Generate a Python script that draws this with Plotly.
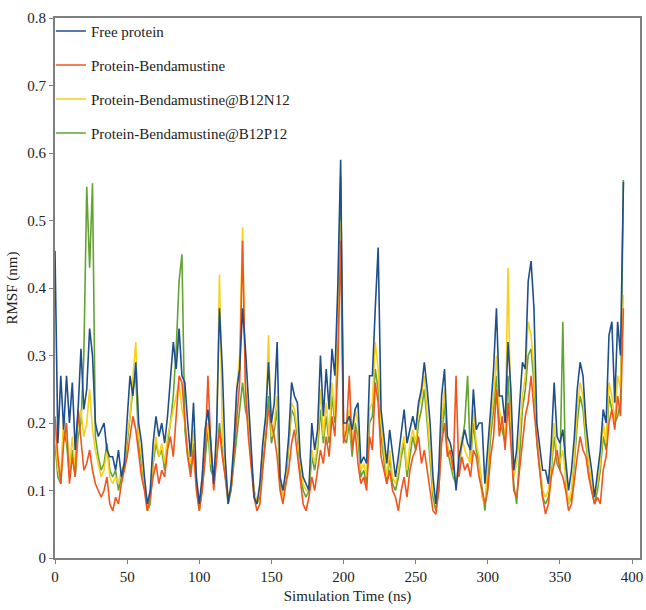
import numpy as np
import plotly.graph_objects as go

series_names = ["Free protein", "Protein-Bendamustine",
                "Protein-Bendamustine@B12N12", "Protein-Bendamustine@B12P12"]

free_protein = [
    0.455, 0.17, 0.27, 0.19, 0.27, 0.20, 0.26, 0.16, 0.22, 0.31,
    0.22, 0.25, 0.34, 0.30, 0.20, 0.18, 0.19, 0.20, 0.16, 0.15,
    0.15, 0.13, 0.16, 0.12, 0.14, 0.20, 0.27, 0.24, 0.29, 0.20,
    0.17, 0.12, 0.08, 0.10, 0.17, 0.21, 0.18, 0.20, 0.17, 0.21,
    0.27, 0.32, 0.28, 0.34, 0.27, 0.26, 0.20, 0.15, 0.23, 0.12,
    0.08, 0.12, 0.19, 0.22, 0.17, 0.11, 0.19, 0.37, 0.28, 0.15,
    0.08, 0.11, 0.17, 0.25, 0.28, 0.37, 0.31, 0.24, 0.16, 0.09,
    0.08, 0.11, 0.17, 0.21, 0.29, 0.20, 0.23, 0.32, 0.12, 0.10,
    0.13, 0.18, 0.26, 0.24, 0.23, 0.15, 0.12, 0.11, 0.10, 0.20,
    0.16, 0.19, 0.30, 0.21, 0.28, 0.22, 0.31, 0.27, 0.40, 0.59,
    0.20, 0.20, 0.21, 0.19, 0.22, 0.23, 0.14, 0.15, 0.14, 0.27,
    0.27, 0.37, 0.46, 0.22, 0.18, 0.14, 0.19, 0.15, 0.12, 0.15,
    0.19, 0.22, 0.17, 0.19, 0.21, 0.19, 0.23, 0.25, 0.29, 0.25,
    0.20, 0.12, 0.08, 0.13, 0.24, 0.28, 0.18, 0.17, 0.15, 0.10,
    0.15, 0.17, 0.19, 0.17, 0.16, 0.25, 0.19, 0.20, 0.20, 0.11,
    0.16, 0.22, 0.28, 0.37, 0.24, 0.24, 0.20, 0.32, 0.25, 0.13,
    0.16, 0.22, 0.29, 0.28, 0.41, 0.44, 0.37, 0.20, 0.16, 0.13,
    0.13, 0.11, 0.17, 0.26, 0.18, 0.17, 0.19, 0.14, 0.10, 0.13,
    0.18, 0.25, 0.29, 0.27, 0.20, 0.16, 0.13, 0.09, 0.13, 0.16,
    0.22, 0.20, 0.33, 0.35, 0.23, 0.35, 0.30, 0.557,
]

protein_bendamustine = [
    0.21, 0.15, 0.11, 0.17, 0.20, 0.11, 0.15, 0.12, 0.22, 0.17,
    0.13, 0.14, 0.16, 0.13, 0.11, 0.10, 0.09, 0.10, 0.12, 0.08,
    0.07, 0.09, 0.08, 0.11, 0.13, 0.15, 0.18, 0.21, 0.19, 0.15,
    0.12, 0.10, 0.07, 0.09, 0.12, 0.14, 0.11, 0.13, 0.12, 0.16,
    0.18, 0.15, 0.21, 0.27, 0.26, 0.20, 0.15, 0.12, 0.16, 0.10,
    0.07, 0.10, 0.15, 0.27, 0.17, 0.10, 0.14, 0.19, 0.15, 0.12,
    0.09, 0.10, 0.15, 0.20, 0.26, 0.47, 0.25, 0.18, 0.13, 0.09,
    0.07, 0.08, 0.13, 0.17, 0.22, 0.20, 0.18, 0.15, 0.10, 0.08,
    0.11, 0.13, 0.17, 0.19, 0.15, 0.12, 0.08, 0.07, 0.09, 0.12,
    0.10, 0.13, 0.16, 0.14, 0.18, 0.15, 0.21, 0.18, 0.28, 0.47,
    0.17, 0.19, 0.27, 0.16, 0.19, 0.14, 0.11, 0.12, 0.10, 0.18,
    0.16, 0.26, 0.23, 0.15, 0.13, 0.11, 0.13, 0.10, 0.09, 0.07,
    0.10, 0.12, 0.09, 0.13, 0.15, 0.16, 0.18, 0.14, 0.16, 0.13,
    0.10, 0.07, 0.065, 0.10, 0.17, 0.20, 0.15, 0.16, 0.13, 0.27,
    0.12, 0.15, 0.13, 0.14, 0.12, 0.16, 0.15, 0.12, 0.10, 0.08,
    0.10, 0.15, 0.18, 0.25, 0.18, 0.21, 0.16, 0.23, 0.17, 0.10,
    0.09, 0.13, 0.18, 0.21, 0.23, 0.27, 0.22, 0.17, 0.13, 0.09,
    0.065, 0.08, 0.12, 0.14, 0.16, 0.13, 0.12, 0.10, 0.07, 0.08,
    0.12, 0.15, 0.18, 0.16, 0.15, 0.12, 0.10, 0.08, 0.09, 0.08,
    0.13, 0.15, 0.20, 0.22, 0.19, 0.24, 0.21, 0.37,
]

b12n12 = [
    0.19, 0.13, 0.12, 0.21, 0.19, 0.13, 0.18, 0.13, 0.20, 0.22,
    0.18, 0.20, 0.25, 0.19, 0.16, 0.14, 0.12, 0.13, 0.16, 0.12,
    0.11, 0.12, 0.11, 0.13, 0.14, 0.18, 0.21, 0.27, 0.32, 0.18,
    0.15, 0.11, 0.07, 0.09, 0.15, 0.18, 0.15, 0.17, 0.14, 0.18,
    0.20, 0.22, 0.24, 0.26, 0.22, 0.20, 0.16, 0.14, 0.19, 0.12,
    0.07, 0.11, 0.17, 0.20, 0.14, 0.13, 0.16, 0.42, 0.18, 0.14,
    0.09, 0.10, 0.16, 0.25, 0.30, 0.49, 0.26, 0.20, 0.14, 0.10,
    0.08, 0.10, 0.16, 0.20, 0.33, 0.18, 0.20, 0.24, 0.12, 0.09,
    0.12, 0.17, 0.23, 0.22, 0.19, 0.14, 0.11, 0.10, 0.10, 0.16,
    0.14, 0.17, 0.25, 0.18, 0.23, 0.18, 0.26, 0.21, 0.34, 0.50,
    0.19, 0.18, 0.22, 0.16, 0.22, 0.20, 0.13, 0.14, 0.12, 0.22,
    0.23, 0.32, 0.28, 0.20, 0.16, 0.12, 0.16, 0.12, 0.11, 0.13,
    0.16, 0.18, 0.13, 0.17, 0.19, 0.17, 0.22, 0.24, 0.27, 0.21,
    0.16, 0.10, 0.08, 0.11, 0.20, 0.25, 0.17, 0.15, 0.13, 0.11,
    0.14, 0.18, 0.16, 0.15, 0.14, 0.22, 0.17, 0.15, 0.09, 0.08,
    0.14, 0.20, 0.24, 0.30, 0.22, 0.20, 0.18, 0.43, 0.20, 0.12,
    0.14, 0.18, 0.24, 0.27, 0.35, 0.33, 0.28, 0.18, 0.14, 0.10,
    0.09, 0.10, 0.14, 0.20, 0.15, 0.14, 0.16, 0.12, 0.08, 0.10,
    0.15, 0.22, 0.26, 0.24, 0.18, 0.14, 0.11, 0.09, 0.11, 0.14,
    0.20, 0.17, 0.26, 0.24, 0.20, 0.27, 0.25, 0.39,
]

b12p12 = [
    0.17, 0.12, 0.11, 0.19, 0.17, 0.12, 0.16, 0.12, 0.18, 0.20,
    0.30, 0.55, 0.43, 0.555, 0.18, 0.15, 0.13, 0.14, 0.17, 0.13,
    0.12, 0.13, 0.10, 0.12, 0.13, 0.17, 0.20, 0.25, 0.27, 0.17,
    0.14, 0.10, 0.07, 0.08, 0.14, 0.17, 0.15, 0.16, 0.13, 0.17,
    0.20, 0.24, 0.31, 0.41, 0.45, 0.19, 0.15, 0.13, 0.17, 0.11,
    0.07, 0.10, 0.15, 0.19, 0.13, 0.12, 0.15, 0.20, 0.16, 0.12,
    0.08, 0.10, 0.14, 0.18, 0.21, 0.26, 0.22, 0.20, 0.14, 0.10,
    0.08, 0.09, 0.14, 0.18, 0.24, 0.17, 0.19, 0.22, 0.11, 0.09,
    0.11, 0.16, 0.22, 0.21, 0.18, 0.13, 0.10, 0.09, 0.10, 0.15,
    0.13, 0.16, 0.22, 0.17, 0.21, 0.17, 0.24, 0.20, 0.30, 0.565,
    0.18, 0.17, 0.20, 0.15, 0.20, 0.18, 0.12, 0.13, 0.11, 0.20,
    0.21, 0.28, 0.25, 0.18, 0.14, 0.11, 0.15, 0.11, 0.10, 0.12,
    0.15, 0.17, 0.12, 0.15, 0.18, 0.16, 0.20, 0.22, 0.25, 0.20,
    0.15, 0.09, 0.07, 0.10, 0.18, 0.23, 0.16, 0.14, 0.12, 0.11,
    0.13, 0.17, 0.20, 0.27, 0.14, 0.20, 0.16, 0.14, 0.10, 0.07,
    0.12, 0.18, 0.22, 0.27, 0.20, 0.19, 0.17, 0.27, 0.18, 0.11,
    0.08, 0.16, 0.22, 0.25, 0.30, 0.31, 0.26, 0.17, 0.13, 0.09,
    0.08, 0.09, 0.13, 0.18, 0.14, 0.13, 0.35, 0.11, 0.08, 0.09,
    0.14, 0.20, 0.24, 0.22, 0.17, 0.13, 0.10, 0.08, 0.10, 0.13,
    0.18, 0.16, 0.24, 0.22, 0.20, 0.21, 0.23, 0.56,
]

x_step = 2
x_ticks = [0, 50, 100, 150, 200, 250, 300, 350, 400]
y_ticks = [0, 0.1, 0.2, 0.3, 0.4, 0.5, 0.6, 0.7, 0.8]

colors = ["#1F4E8C", "#F2541E", "#F7D117", "#62A332"]
all_values = [free_protein, protein_bendamustine, b12n12, b12p12]

fig = go.Figure()
# draw order: green, yellow, red, blue (blue on top); legend order kept by legendrank
for idx in [3, 2, 1, 0]:
    vals = all_values[idx]
    xs = np.arange(len(vals)) * x_step
    fig.add_trace(go.Scatter(
        x=xs, y=vals, mode="lines", name=series_names[idx],
        line=dict(color=colors[idx], width=1.6),
        legendrank=idx + 1, legendgroup=str(idx),
    ))

font_family = "Liberation Serif, Times New Roman, serif"
fig.update_layout(
    width=646, height=610,
    margin=dict(l=55, r=6, t=18, b=52),
    paper_bgcolor="white", plot_bgcolor="white",
    font=dict(family=font_family, size=15, color="#222"),
    showlegend=True,
    legend=dict(x=-0.007, y=1.006, xanchor="left", yanchor="top",
                bgcolor="rgba(0,0,0,0)", font=dict(size=15, family=font_family),
                traceorder="grouped", tracegroupgap=11.5),
    xaxis=dict(range=[0, 405.5], tickvals=x_ticks, showgrid=False, zeroline=False,
               showline=True, linecolor="#7f7f7f", linewidth=2, mirror=True,
               ticks="outside", ticklen=4, tickcolor="#7f7f7f", automargin=False,
               title=dict(text="Simulation Time (ns)", standoff=6,
                          font=dict(size=15, family=font_family)),
               tickfont=dict(size=15, family=font_family)),
    yaxis=dict(range=[0, 0.8], tickvals=y_ticks, showgrid=False, zeroline=False,
               showline=True, linecolor="#7f7f7f", linewidth=2, mirror=True,
               ticks="outside", ticklen=4, tickcolor="#7f7f7f", automargin=False,
               title=dict(text="RMSF (nm)", standoff=6,
                          font=dict(size=15, family=font_family)),
               tickfont=dict(size=15, family=font_family)),
)

fig.write_html("out.html", config={"displayModeBar": False},
               post_script="document.body.style.margin='0';document.body.style.overflow='hidden';")
